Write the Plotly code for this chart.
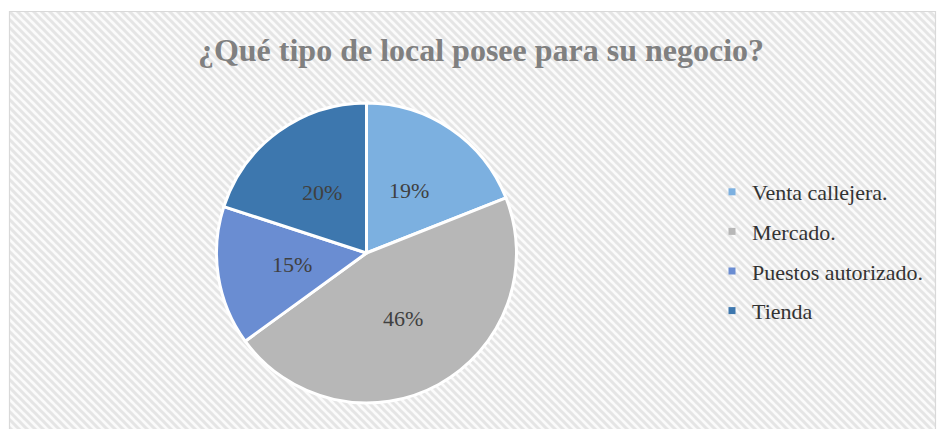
import base64
import math
import plotly.graph_objects as go

# ---- data ----
categories = ["Venta callejera.", "Mercado.", "Puestos autorizado.", "Tienda"]
percentages = [19, 46, 15, 20]
slice_colors = ["#7CB0E0", "#B7B7B7", "#6A8DD2", "#3D77AE"]
title_text = "¿Qué tipo de local posee para su negocio?"

W, H = 937, 429
FONT = "Liberation Serif, Times New Roman, serif"

# background hatch pattern (decoration)
bx0, by0, bx1, by1 = 10, 12, 935, 429
bw, bh = bx1 - bx0, by1 - by0
svg = (
    f'<svg xmlns="http://www.w3.org/2000/svg" width="{bw}" height="{bh}" '
    f'viewBox="0 0 {bw} {bh}" preserveAspectRatio="none">'
    '<defs><pattern id="p" patternUnits="userSpaceOnUse" width="8" height="8">'
    '<rect width="8" height="8" fill="#fbfbfb"/>'
    '<path d="M-4,4 L4,12 M0,0 L8,8 M4,-4 L12,4" stroke="#e5e5e5" stroke-width="3"/>'
    '</pattern></defs>'
    f'<rect width="{bw}" height="{bh}" fill="url(#p)"/></svg>'
)
svg_uri = "data:image/svg+xml;base64," + base64.b64encode(svg.encode()).decode()

fig = go.Figure()

cx, cy, r = 366.5, 253, 150
fig.add_trace(go.Pie(
    labels=categories,
    values=percentages,
    sort=False,
    direction="clockwise",
    rotation=0,
    marker=dict(colors=slice_colors, line=dict(color="#ffffff", width=3)),
    textinfo="none",
    showlegend=False,
    hoverinfo="label+percent",
    domain=dict(x=[(cx - r) / W, (cx + r) / W], y=[(H - cy - r) / H, (H - cy + r) / H]),
))

# percentage labels at half radius along each slice's mid-angle (derived from values)
annotations = []
total = sum(percentages)
cum = 0
for v in percentages:
    mid = (cum + v / 2) / total * 2 * math.pi
    cum += v
    px = cx + 0.5 * r * math.sin(mid)
    py = cy - 0.5 * r * math.cos(mid)
    annotations.append(dict(
        x=px / W, y=1 - py / H, xref="paper", yref="paper",
        text=f"{round(v / total * 100)}%", showarrow=False,
        xanchor="center", yanchor="middle",
        font=dict(family=FONT, size=22, color="#404040"),
    ))

# legend entries (one per category)
for name, col in zip(categories, slice_colors):
    fig.add_trace(go.Scatter(
        x=[None], y=[None], mode="markers", name=name, legendgroup=name,
        marker=dict(symbol="square", size=7, color=col),
    ))

fig.update_layout(
    width=W, height=H,
    margin=dict(l=0, r=0, t=0, b=0),
    paper_bgcolor="#ffffff",
    plot_bgcolor="rgba(0,0,0,0)",
    xaxis=dict(visible=False),
    yaxis=dict(visible=False),
    title=dict(
        text=title_text,
        font=dict(family=FONT, size=32, color="#808080", weight="bold"),
        x=481 / W, xanchor="center", y=1 - 50 / H, yanchor="middle",
    ),
    legend=dict(
        x=712 / W, xanchor="left", y=1 - 171 / H, yanchor="top",
        font=dict(family=FONT, size=22, color="#333333"),
        bgcolor="rgba(0,0,0,0)",
        tracegroupgap=8,
    ),
    annotations=annotations,
    images=[dict(
        source=svg_uri, xref="paper", yref="paper",
        x=bx0 / W, y=1 - by0 / H, sizex=bw / W, sizey=bh / H,
        xanchor="left", yanchor="top", sizing="stretch", layer="below",
    )],
    shapes=[dict(
        type="rect", xref="paper", yref="paper",
        x0=9.5 / W, x1=935.5 / W, y0=-0.01, y1=1 - 11.5 / H,
        line=dict(color="#d9d9d9", width=1.2), fillcolor="rgba(0,0,0,0)", layer="above",
    )],
)

fig.write_html("out.html", config={"displayModeBar": False},
               post_script="document.body.style.margin='0';")
